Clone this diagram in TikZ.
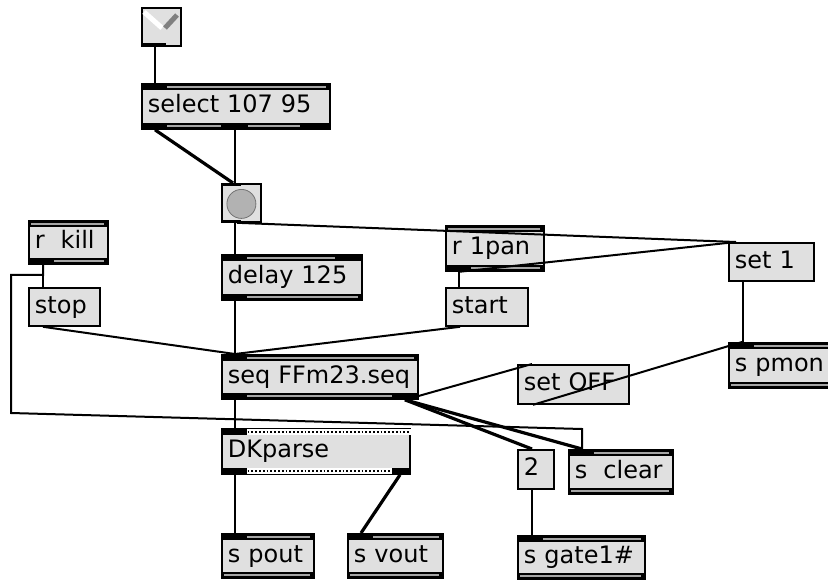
\documentclass[tikz,border=0pt]{standalone}
\usepackage{fontspec}
\newfontfamily\patchfont{DejaVu Sans}
\definecolor{boxfill}{RGB}{224,224,224}
\definecolor{stripe}{RGB}{165,165,165}
\tikzset{
  box/.style={draw, line width=1.8pt, fill=boxfill, anchor=north west,
    inner xsep=6pt, inner ysep=0pt, align=left, text height=17pt, text depth=4pt,
    font=\patchfont\fontsize{24}{26}\selectfont},
  cord/.style={line width=2pt},
  fat/.style={line width=3.2pt}
}
% inlet and outlet bars of an object box: node, gray stripe spans from the west edge
\newcommand\inband[2]{%
  \fill (#1.north west) rectangle ([yshift=-7pt]#1.north east);
  \foreach \a/\b in {#2}
    \fill[stripe] ([xshift=\a pt,yshift=-2.5pt]#1.north west)
      rectangle ([xshift=\b pt,yshift=-4.5pt]#1.north west);
}
\newcommand\outband[2]{%
  \fill (#1.south west) rectangle ([yshift=7pt]#1.south east);
  \foreach \a/\b in {#2}
    \fill[stripe] ([xshift=\a pt,yshift=2.5pt]#1.south west)
      rectangle ([xshift=\b pt,yshift=4.5pt]#1.south west);
}
\begin{document}
\begin{tikzpicture}[x=1pt,y=-1pt]
  \useasboundingbox (0,0) rectangle (828,579);

  \node[box, minimum width=39pt, minimum height=38pt] (tog) at (141,7) {};
  \node[box, text width=176pt, minimum height=45pt] (sel) at (141,83) {select~107~95};
  \node[box, minimum width=39pt, minimum height=38pt] (bng) at (221,183) {};
  \node[box, text width=67pt, minimum height=43pt] (rkill) at (28,220) {r~~kill};
  \node[box, text width=59pt, minimum height=38pt] (stop) at (28,287) {stop};
  \node[box, text width=128pt, minimum height=45pt] (dly) at (221,254) {delay~125};
  \node[box, text width=86pt, minimum height=45pt] (rpan) at (445,225) {r~1pan};
  \node[box, text width=70pt, minimum height=38pt] (start) at (445,287) {start};
  \node[box, text width=73pt, minimum height=38pt] (setone) at (728,242) {set~1};
  \node[box, text width=184pt, minimum height=44pt] (seq) at (221,354) {seq~FFm23.seq};
  \node[box, text width=99pt, minimum height=39pt] (setoff) at (517,364) {set~OFF};
  \node[box, text width=93pt, minimum height=45pt] (spmon) at (728,342) {s~pmon};
  \node[box, text width=176pt, minimum height=45pt] (dkp) at (221,428) {DKparse};
  \node[box, text width=24pt, minimum height=39pt] (two) at (517,449) {2};
  \node[box, text width=92pt, minimum height=44pt] (sclear) at (568,449) {s~~clear};
  \node[box, text width=80pt, minimum height=44pt] (spout) at (221,533) {s~pout};
  \node[box, text width=83pt, minimum height=44pt] (svout) at (347,533) {s~vout};
  \node[box, text width=115pt, minimum height=43pt] (sgate) at (517,535) {s~gate1\#};

  % toggle and bang faces
  \draw[white, line width=5pt] ([xshift=3pt,yshift=-5pt]tog.north west) -- ([xshift=21pt,yshift=-21pt]tog.north west);
  \draw[gray, line width=5pt] ([xshift=24pt,yshift=-21pt]tog.north west) -- ([xshift=36pt,yshift=-8pt]tog.north west);
  \fill (tog.south west) rectangle ([xshift=25pt,yshift=4pt]tog.south west);
  \fill[gray!60] ([yshift=-1pt]bng.center) circle (14.5pt);
  \draw[gray!90!black, line width=0.8pt] ([yshift=-1pt]bng.center) circle (14.5pt);
  \fill (bng.north west) rectangle ([xshift=20pt,yshift=-3pt]bng.north west);
  \fill (bng.south west) rectangle ([xshift=20pt,yshift=3pt]bng.south west);

  \inband{sel}{26/185}     \outband{sel}{26/80,107/159}
  \inband{rkill}{3/76}     \outband{rkill}{26/76}
  \inband{dly}{26/114}     \outband{dly}{26/137}
  \inband{rpan}{3/95}      \outband{rpan}{26/95}
  \inband{seq}{26/193}     \outband{seq}{26/171}
  \inband{spmon}{26/102}   \outband{spmon}{3/102}
  \inband{sclear}{26/101}  \outband{sclear}{3/101}
  \inband{spout}{26/89}    \outband{spout}{3/89}
  \inband{svout}{26/92}    \outband{svout}{3/92}
  \inband{sgate}{26/124}   \outband{sgate}{3/124}

  % DKparse has dotted bars
  \fill[white] ([yshift=-0.9pt]dkp.north west) rectangle ([yshift=-7pt]dkp.north east);
  \fill[white] ([yshift=0.9pt]dkp.south west) rectangle ([yshift=7pt]dkp.south east);
  \draw[dotted, line width=1.8pt] ([yshift=-4pt]dkp.north west) -- ([yshift=-4pt]dkp.north east);
  \draw[dotted, line width=1.8pt] ([yshift=4pt]dkp.south west) -- ([yshift=4pt]dkp.south east);
  \fill (dkp.north west) rectangle ([xshift=26pt,yshift=-7pt]dkp.north west);
  \fill (dkp.south west) rectangle ([xshift=26pt,yshift=7pt]dkp.south west);
  \fill ([xshift=171pt]dkp.south west) rectangle ([yshift=7pt]dkp.south east);

  % patch cords
  \draw[cord] ([xshift=14pt]tog.south west) -- ([xshift=14pt]sel.north west);
  \draw[fat]  ([xshift=14pt]sel.south west) -- ([xshift=12pt]bng.north west);
  \draw[cord] ([xshift=94pt]sel.south west) -- ([xshift=14pt]bng.north west);
  \draw[cord] ([xshift=14pt]bng.south west) -- ([xshift=14pt]dly.north west);
  \draw[cord] ([xshift=16pt]bng.south west) -- ([xshift=8pt]setone.north west);
  \draw[cord] ([xshift=14pt]rpan.south west) -- ([xshift=8pt]setone.north west);
  \draw[cord] ([xshift=14pt]rpan.south west) -- ([xshift=14pt]start.north west);
  \draw[cord] ([xshift=15pt]rkill.south west) -- ([xshift=15pt]stop.north west);
  \draw[cord] ([xshift=15pt]rkill.south west) -- ++(0,10) -| (11,413)
    -- ([xshift=14pt,yshift=20pt]sclear.north west) -- ([xshift=14pt]sclear.north west);
  \draw[cord] ([xshift=15pt]stop.south west) -- ([xshift=14pt]seq.north west);
  \draw[cord] ([xshift=14pt]dly.south west) -- ([xshift=14pt]seq.north west);
  \draw[cord] ([xshift=15pt]start.south west) -- ([xshift=14pt]seq.north west);
  \draw[cord] ([xshift=184pt]seq.south west) -- ([xshift=15pt]setoff.north west);
  \draw[cord] ([xshift=16pt]setoff.south west) -- ([xshift=14pt]spmon.north west);
  \draw[cord] ([xshift=15pt]setone.south west) -- ([xshift=15pt]spmon.north west);
  \draw[fat]  ([xshift=184pt]seq.south west) -- ([xshift=15pt]two.north west);
  \draw[fat]  ([xshift=184pt]seq.south west) -- ([xshift=14pt]sclear.north west);
  \draw[cord] ([xshift=14pt]seq.south west) -- ([xshift=14pt]dkp.north west);
  \draw[cord] ([xshift=14pt]dkp.south west) -- ([xshift=14pt]spout.north west);
  \draw[fat]  ([xshift=179pt]dkp.south west) -- ([xshift=14pt]svout.north west);
  \draw[cord] ([xshift=15pt]two.south west) -- ([xshift=15pt]sgate.north west);
\end{tikzpicture}
\end{document}
